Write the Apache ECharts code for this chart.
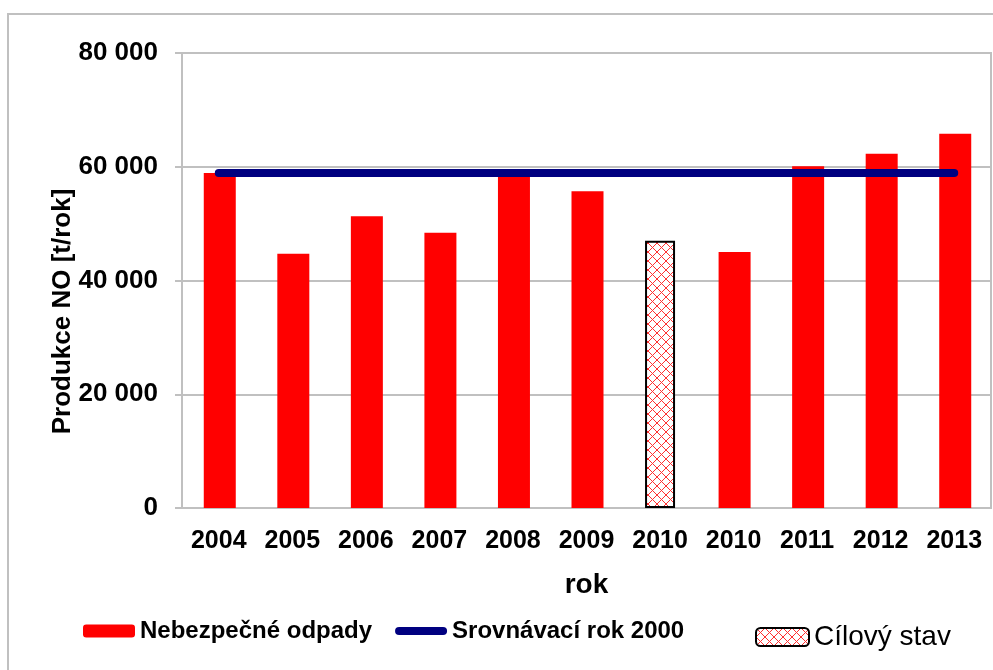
<!DOCTYPE html>
<html>
<head>
<meta charset="utf-8">
<script src="https://cdn.jsdelivr.net/npm/echarts@6/dist/echarts.min.js"></script>
<style>
  html, body { margin: 0; padding: 0; background: #fff; }
</style>
</head>
<body>
<div id="sumView" style="width:993px;height:670px;"></div>
<script>
    // roky (2010 je dvakrat - cilovy stav a skutecnost)
    var years = ['2004', '2005', '2006', '2007', '2008', '2009', '2010', '2010', '2011', '2012', '2013']
    // produkce nebezpecnych odpadu [t/rok]
    var odpady = [58900, 44700, 51300, 48400, 59100, 55700, '-', 45000, 60100, 62300, 65800]
    // cilovy stav
    var cilovy = ['-', '-', '-', '-', '-', '-', 47000, '-', '-', '-', '-']
    // srovnavaci rok 2000
    var srovnani = [58900, 58900, 58900, 58900, 58900, 58900, 58900, 58900, 58900, 58900, 58900]
    var yTicks = [0, 20000, 40000, 60000, 80000]

    // sraffovani pro cilovy stav
    var pat = document.createElement('canvas')
    pat.width = 9
    pat.height = 9
    var ctx = pat.getContext('2d')
    ctx.fillStyle = '#fff'
    ctx.fillRect(0, 0, 9, 9)
    ctx.strokeStyle = '#ff3030'
    ctx.lineWidth = 1
    ctx.beginPath()
    ctx.moveTo(0, 0); ctx.lineTo(9, 9)
    ctx.moveTo(9, 0); ctx.lineTo(0, 9)
    ctx.stroke()

    function fmt(v) {
        return String(v).replace(/\B(?=(\d{3})+(?!\d))/g, ' ')
    }

    var font = 'Liberation Sans'
    var charts = echarts.init(document.getElementById('sumView'))
    charts.setOption({
        animation: false,
        backgroundColor: '#fff',
        graphic: [{
            type: 'rect',
            shape: { x: 8, y: 14, width: 1000, height: 700 },
            style: { fill: 'none', stroke: '#c0c0c0', lineWidth: 2 },
            silent: true
        }],
        legend: [{
            data: [
                'Nebezpečné odpady',
                { name: 'Srovnávací rok 2000', icon: 'path://M4,0 L48,0 A4,4 0 0 1 48,8 L4,8 A4,4 0 0 1 4,0 Z' }
            ],
            left: 83,
            top: 619,
            padding: 0,
            itemWidth: 52,
            itemHeight: 13,
            itemGap: 23,
            textStyle: { fontFamily: font, fontWeight: 'bold', fontSize: 24, color: '#000' }
        }, {
            data: ['Cílový stav'],
            left: 755,
            top: 623,
            padding: 0,
            itemWidth: 53,
            itemHeight: 18,
            textStyle: { fontFamily: font, fontSize: 28, color: '#000' }
        }],
        grid: {
            left: 182,
            right: 2,
            top: 53,
            bottom: 162,
            show: true,
            borderColor: '#c0c0c0',
            borderWidth: 2
        },
        xAxis: [{
            type: 'category',
            data: years,
            name: 'rok',
            nameLocation: 'middle',
            nameGap: 63,
            nameMoveOverlap: false,
            nameTextStyle: { fontFamily: font, fontWeight: 'bold', fontSize: 28, color: '#000' },
            axisLine: { lineStyle: { color: '#c0c0c0', width: 2 } },
            axisTick: { length: 7, lineStyle: { color: '#c0c0c0', width: 2 } },
            axisLabel: { interval: 0, hideOverlap: false, margin: 21, fontFamily: font, fontWeight: 'bold', fontSize: 25, color: '#000' }
        }, {
            // vnitrni cast znacek (znacky pres osu)
            type: 'category',
            position: 'bottom',
            data: years,
            axisLine: { show: false },
            axisTick: { inside: true, length: 7, lineStyle: { color: '#c0c0c0', width: 2 } },
            axisLabel: { show: false }
        }],
        yAxis: {
            type: 'value',
            min: yTicks[0],
            max: yTicks[yTicks.length - 1],
            interval: yTicks[1] - yTicks[0],
            name: 'Produkce NO [t/rok]',
            nameLocation: 'middle',
            nameGap: 106,
            nameMoveOverlap: false,
            nameTextStyle: { fontFamily: font, fontWeight: 'bold', fontSize: 26, color: '#000', padding: [0, 62, 0, 0] },
            axisLine: { show: true, lineStyle: { color: '#c0c0c0', width: 2 } },
            axisTick: { show: true, length: 7, lineStyle: { color: '#c0c0c0', width: 2 } },
            splitLine: { lineStyle: { color: '#c0c0c0', width: 2 } },
            axisLabel: { margin: 24, fontFamily: font, fontWeight: 'bold', fontSize: 26, color: '#000', formatter: fmt }
        },
        series: [{
            name: 'Nebezpečné odpady',
            type: 'bar',
            barWidth: 32,
            barGap: '-100%',
            itemStyle: { color: '#ff0000' },
            data: odpady
        }, {
            name: 'Cílový stav',
            type: 'bar',
            barWidth: 30,
            itemStyle: { color: { image: pat, repeat: 'repeat' }, borderColor: '#000', borderWidth: 2 },
            data: cilovy
        }, {
            name: 'Srovnávací rok 2000',
            type: 'line',
            symbol: 'none',
            lineStyle: { color: '#000080', width: 8, cap: 'round' },
            itemStyle: { color: '#000080' },
            data: srovnani
        }]
    })
</script>
</body>
</html>
